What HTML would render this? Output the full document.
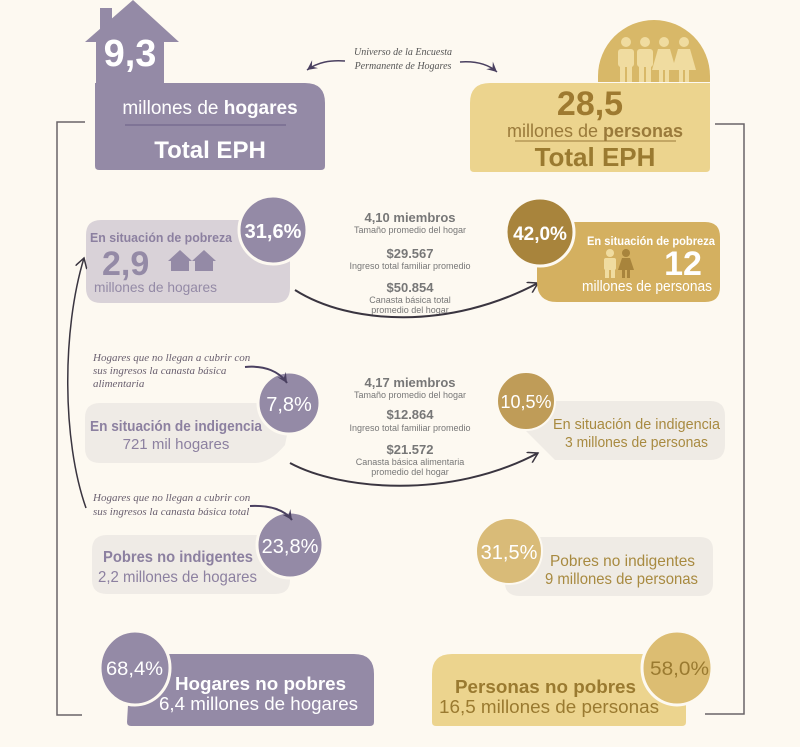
<!DOCTYPE html>
<html><head><meta charset="utf-8"><style>
html,body{margin:0;padding:0;background:#fdf9f1;}
svg{display:block;font-family:"Liberation Sans",sans-serif;}
.it{font-family:"Liberation Serif",serif;font-style:italic;}
</style></head><body>
<svg width="800" height="747" viewBox="0 0 800 747" xmlns="http://www.w3.org/2000/svg">
<rect width="800" height="747" fill="#fdf9f1"/>
<defs>
<marker id="ah" markerWidth="12" markerHeight="12" refX="10" refY="6" orient="auto" markerUnits="userSpaceOnUse">
<path d="M0,0 L10,6 L0,12" fill="none" stroke="#3a3540" stroke-width="1.5"/>
</marker>
<marker id="ahp" markerWidth="12" markerHeight="12" refX="10" refY="6" orient="auto" markerUnits="userSpaceOnUse">
<path d="M0,1 L10,6 L0,11 L4,6 Z" fill="#4a4060"/>
</marker>
</defs>

<!-- brackets -->
<path d="M85,122 H57 V715 H82" fill="none" stroke="#6a6468" stroke-width="1.5"/>
<path d="M715,124 H744 V714 H705" fill="none" stroke="#6a6468" stroke-width="1.5"/>

<!-- house -->
<rect x="100" y="8" width="12" height="30" fill="#948aa6"/>
<polygon points="85,42 133,0 179,42" fill="#948aa6"/>
<rect x="96" y="40" width="68" height="46" fill="#948aa6"/>
<text x="130" y="66" text-anchor="middle" font-size="38" font-weight="bold" fill="#fff">9,3</text>
<path d="M95,83 H305 Q325,83 325,103 V166 Q325,170 321,170 H99 Q95,170 95,166 Z" fill="#948aa6"/>
<text x="210" y="114" text-anchor="middle" font-size="19" fill="#fff">millones de <tspan font-weight="bold">hogares</tspan></text>
<line x1="125" y1="125" x2="286" y2="125" stroke="#6a5f85" stroke-width="1"/>
<text x="210" y="158" text-anchor="middle" font-size="24" font-weight="bold" fill="#fff">Total EPH</text>

<!-- universo -->
<text class="it" x="403" y="55" text-anchor="middle" font-size="10" fill="#555">Universo de la Encuesta</text>
<text class="it" x="403" y="69" text-anchor="middle" font-size="10" fill="#555">Permanente de Hogares</text>
<path d="M345,61 C330,60 318,62 307,70" fill="none" stroke="#4a4060" stroke-width="1.5" marker-end="url(#ahp)"/>
<path d="M460,62 C475,61 488,64 497,72" fill="none" stroke="#4a4060" stroke-width="1.5" marker-end="url(#ahp)"/>

<!-- people dome -->
<path d="M598,82 V76 A56,56 0 0 1 710,76 V82 Z" fill="#d8b868"/>
<g fill="#f0dca0">
<circle cx="626" cy="42" r="5"/><rect x="618" y="49" width="16" height="18" rx="3"/><rect x="620" y="64" width="5" height="18"/><rect x="627" y="64" width="5" height="18"/>
<circle cx="645" cy="42" r="5"/><rect x="637" y="49" width="16" height="18" rx="3"/><rect x="639" y="64" width="5" height="18"/><rect x="646" y="64" width="5" height="18"/>
<circle cx="664" cy="42" r="5"/><polygon points="658,49 670,49 676,70 652,70"/><rect x="659" y="68" width="4" height="14"/><rect x="665" y="68" width="4" height="14"/>
<circle cx="684" cy="42" r="5"/><polygon points="678,49 690,49 696,70 672,70"/><rect x="679" y="68" width="4" height="14"/><rect x="685" y="68" width="4" height="14"/>
</g>
<path d="M490,83 H710 V168 Q710,172 706,172 H474 Q470,172 470,168 V103 Q470,83 490,83 Z" fill="#ecd48e"/>
<text x="590" y="115" text-anchor="middle" font-size="34" font-weight="bold" fill="#9e7a30">28,5</text>
<text x="595" y="137" text-anchor="middle" font-size="18" fill="#9a7a3a">millones de <tspan font-weight="bold">personas</tspan></text>
<line x1="515" y1="141" x2="676" y2="141" stroke="#9a7a3a" stroke-width="1"/>
<text x="595" y="166" text-anchor="middle" font-size="26" font-weight="bold" fill="#9a7a30">Total EPH</text>

<!-- pobreza left -->
<path d="M101,220 H275 Q290,220 290,235 V288 Q290,303 275,303 H101 Q86,303 86,288 V235 Q86,220 101,220 Z" fill="#d9d2d8"/>
<circle cx="273" cy="230" r="34" fill="#948aa6" stroke="#fdf9f1" stroke-width="3"/>
<text x="273" y="238" text-anchor="middle" font-size="20" font-weight="bold" fill="#fff">31,6%</text>
<text x="90" y="242" font-size="13" font-weight="bold" fill="#8c80a0" textLength="142" lengthAdjust="spacingAndGlyphs">En situación de pobreza</text>
<text x="102" y="275" font-size="34" font-weight="bold" fill="#948aa6">2,9</text>
<g fill="#948aa6">
<polygon points="168,261 180,250 192,261"/><rect x="171" y="260" width="18" height="11"/>
<polygon points="192,261 204,250 216,261"/><rect x="195" y="260" width="18" height="11"/>
</g>
<text x="94" y="292" font-size="14" fill="#948aa6" textLength="123" lengthAdjust="spacingAndGlyphs">millones de hogares</text>

<!-- mid stats 1 -->
<g text-anchor="middle" fill="#777">
<text x="410" y="222" font-size="13" font-weight="bold">4,10 miembros</text>
<text x="410" y="233" font-size="9">Tamaño promedio del hogar</text>
<text x="410" y="258" font-size="13" font-weight="bold">$29.567</text>
<text x="410" y="269" font-size="9">Ingreso total familiar promedio</text>
<text x="410" y="292" font-size="13" font-weight="bold">$50.854</text>
<text x="410" y="303" font-size="9">Canasta básica total</text>
<text x="410" y="313" font-size="9">promedio del hogar</text>
</g>
<path d="M295,290 C350,325 450,330 538,283" fill="none" stroke="#3a3540" stroke-width="2" marker-end="url(#ah)"/>

<!-- pobreza right -->
<path d="M557,222 H705 Q720,222 720,237 V287 Q720,302 705,302 H557 Q537,302 537,282 V222 Z" fill="#d4b060"/>
<circle cx="540" cy="232" r="34" fill="#a8843c" stroke="#fdf9f1" stroke-width="3"/>
<text x="540" y="240" text-anchor="middle" font-size="19" font-weight="bold" fill="#fff">42,0%</text>
<text x="587" y="245" font-size="12" font-weight="bold" fill="#fff" textLength="128" lengthAdjust="spacingAndGlyphs">En situación de pobreza</text>
<g><circle cx="610" cy="253" r="4" fill="#f0dca0"/><rect x="604" y="258" width="12" height="12" rx="2" fill="#f0dca0"/><rect x="605" y="268" width="4" height="10" fill="#f0dca0"/><rect x="611" y="268" width="4" height="10" fill="#f0dca0"/>
<circle cx="626" cy="253" r="4" fill="#a8843c"/><polygon points="622,258 630,258 634,270 618,270" fill="#a8843c"/><rect x="622" y="268" width="3" height="10" fill="#a8843c"/><rect x="627" y="268" width="3" height="10" fill="#a8843c"/></g>
<text x="683" y="275" text-anchor="middle" font-size="34" font-weight="bold" fill="#fff">12</text>
<text x="582" y="291" font-size="15" fill="#fff" textLength="130" lengthAdjust="spacingAndGlyphs">millones de personas</text>

<!-- indigencia left -->
<text class="it" x="93" y="361" font-size="11" fill="#6a6070">Hogares que no llegan a cubrir con</text>
<text class="it" x="93" y="374" font-size="11" fill="#6a6070">sus ingresos la canasta básica</text>
<text class="it" x="93" y="387" font-size="11" fill="#6a6070">alimentaria</text>
<path d="M100,403 H270 Q285,403 290,420 L285,445 Q270,463 255,463 H100 Q85,463 85,448 V418 Q85,403 100,403 Z" fill="#efebe6"/>
<circle cx="289" cy="403" r="31" fill="#948aa6" stroke="#fdf9f1" stroke-width="3"/>
<text x="289" y="411" text-anchor="middle" font-size="20" fill="#fff">7,8%</text>
<path d="M245,367 C265,365 280,372 287,383" fill="none" stroke="#4a4060" stroke-width="2" marker-end="url(#ahp)"/>
<text x="90" y="431" font-size="15" font-weight="bold" fill="#8c80a0" textLength="172" lengthAdjust="spacingAndGlyphs">En situación de indigencia</text>
<text x="176" y="449" text-anchor="middle" font-size="15" fill="#8c80a0">721 mil hogares</text>

<g text-anchor="middle" fill="#777">
<text x="410" y="387" font-size="13" font-weight="bold">4,17 miembros</text>
<text x="410" y="398" font-size="9">Tamaño promedio del hogar</text>
<text x="410" y="419" font-size="13" font-weight="bold">$12.864</text>
<text x="410" y="431" font-size="9">Ingreso total familiar promedio</text>
<text x="410" y="454" font-size="13" font-weight="bold">$21.572</text>
<text x="410" y="465" font-size="9">Canasta básica alimentaria</text>
<text x="410" y="475" font-size="9">promedio del hogar</text>
</g>
<path d="M290,463 C340,490 450,500 538,453" fill="none" stroke="#3a3540" stroke-width="2" marker-end="url(#ah)"/>

<!-- indigencia right -->
<path d="M545,401 H710 Q725,401 725,416 V445 Q725,460 710,460 H555 L525,430 V401 Z" fill="#efebe5"/>
<circle cx="526" cy="401" r="29" fill="#bf9c58" stroke="#fdf9f1" stroke-width="2"/>
<text x="526" y="408" text-anchor="middle" font-size="18" fill="#fff">10,5%</text>
<text x="553" y="429" font-size="15" fill="#a88a40" textLength="167" lengthAdjust="spacingAndGlyphs">En situación de indigencia</text>
<text x="565" y="447" font-size="15" fill="#a88a40" textLength="143" lengthAdjust="spacingAndGlyphs">3 millones de personas</text>

<!-- pobres no indigentes left -->
<text class="it" x="93" y="501" font-size="11" fill="#6a6070">Hogares que no llegan a cubrir con</text>
<text class="it" x="93" y="515" font-size="11" fill="#6a6070">sus ingresos la canasta básica total</text>
<path d="M107,535 H275 Q290,535 290,550 V580 Q290,594 275,594 H107 Q92,594 92,580 V550 Q92,535 107,535 Z" fill="#efebe6"/>
<circle cx="290" cy="545" r="33" fill="#948aa6" stroke="#fdf9f1" stroke-width="3"/>
<text x="290" y="553" text-anchor="middle" font-size="20" fill="#fff">23,8%</text>
<path d="M250,506 C270,505 285,510 292,520" fill="none" stroke="#4a4060" stroke-width="2" marker-end="url(#ahp)"/>
<text x="103" y="562" font-size="16" font-weight="bold" fill="#8c80a0" textLength="150" lengthAdjust="spacingAndGlyphs">Pobres no indigentes</text>
<text x="98" y="582" font-size="16" fill="#8c80a0" textLength="159" lengthAdjust="spacingAndGlyphs">2,2 millones de hogares</text>

<!-- pobres no indigentes right -->
<path d="M520,537 H700 Q713,537 713,550 V583 Q713,596 700,596 H520 Q505,596 505,583 V550 Z" fill="#efebe5"/>
<circle cx="509" cy="551" r="33" fill="#d9bb78" stroke="#fdf9f1" stroke-width="2"/>
<text x="509" y="559" text-anchor="middle" font-size="20" fill="#fff">31,5%</text>
<text x="550" y="566" font-size="16" fill="#a88a40" textLength="145" lengthAdjust="spacingAndGlyphs">Pobres no indigentes</text>
<text x="545" y="584" font-size="16" fill="#a88a40" textLength="153" lengthAdjust="spacingAndGlyphs">9 millones de personas</text>

<!-- left curved arrow -->
<path d="M86,508 C62,440 62,330 84,258" fill="none" stroke="#3a3540" stroke-width="1.5" marker-end="url(#ah)"/>

<!-- bottom -->
<path d="M131,654 H354 Q374,654 374,674 V722 Q374,726 370,726 H131 Q127,726 127,722 Z" fill="#948aa6"/>
<ellipse cx="135" cy="668" rx="35" ry="37" fill="#948aa6" stroke="#fdf9f1" stroke-width="3"/>
<text x="106" y="675" font-size="19" fill="#fff" textLength="57" lengthAdjust="spacingAndGlyphs">68,4%</text>
<text x="175" y="690" font-size="18" font-weight="bold" fill="#fff" textLength="171" lengthAdjust="spacingAndGlyphs">Hogares no pobres</text>
<text x="159" y="710" font-size="18" fill="#fff" textLength="199" lengthAdjust="spacingAndGlyphs">6,4 millones de hogares</text>

<path d="M452,654 H686 V722 Q686,726 682,726 H436 Q432,726 432,722 V674 Q432,654 452,654 Z" fill="#ecd48e"/>
<ellipse cx="677" cy="668" rx="35" ry="37" fill="#dcbd72" stroke="#fdf9f1" stroke-width="3"/>
<text x="650" y="675" font-size="19" fill="#9a7a30" textLength="59" lengthAdjust="spacingAndGlyphs">58,0%</text>
<text x="455" y="693" font-size="18" font-weight="bold" fill="#9a7a30" textLength="181" lengthAdjust="spacingAndGlyphs">Personas no pobres</text>
<text x="439" y="713" font-size="18" fill="#9a7a30" textLength="220" lengthAdjust="spacingAndGlyphs">16,5 millones de personas</text>
</svg>
</body></html>
